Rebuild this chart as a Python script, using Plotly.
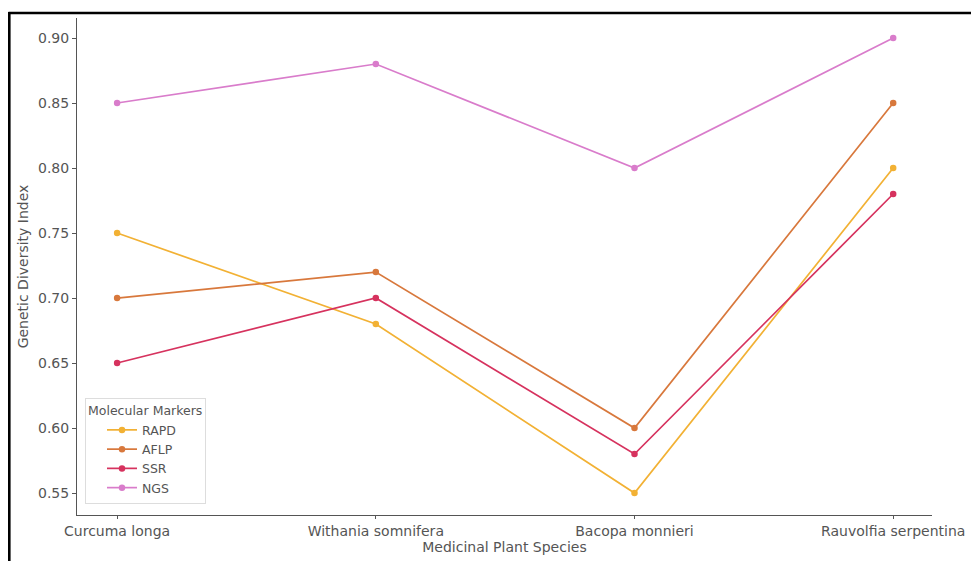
import plotly.graph_objects as go

species = ["Curcuma longa", "Withania somnifera", "Bacopa monnieri", "Rauvolfia serpentina"]
rapd = [0.75, 0.68, 0.55, 0.80]
aflp = [0.70, 0.72, 0.60, 0.85]
ssr = [0.65, 0.70, 0.58, 0.78]
ngs = [0.85, 0.88, 0.80, 0.90]
series_names = ["RAPD", "AFLP", "SSR", "NGS"]
colors = ["#f2b134", "#d8783c", "#d6325e", "#d97ccb"]
yticks = [0.55, 0.60, 0.65, 0.70, 0.75, 0.80, 0.85, 0.90]

fig = go.Figure()
for name, vals, c in zip(series_names, [rapd, aflp, ssr, ngs], colors):
    fig.add_trace(go.Scatter(
        x=list(range(len(species))), y=vals, name=name, mode="lines+markers",
        line=dict(color=c, width=1.7), marker=dict(color=c, size=6.5),
    ))

# page offset (browser body margin)
OFF = 8
W, H = 979, 561
# plot area in screen coordinates
SX0, SX1, SY0, SY1 = 77, 932, 18, 515
L = SX0 - OFF
T = SY0 - OFF
R = W - (SX1 - OFF)
B = H - (SY1 - OFF)
pw, ph = W - L - R, H - T - B
def px(x):
    return (x - OFF - L) / pw
def py(y):
    return (H - B - (y - OFF)) / ph

fig.update_layout(
    width=W, height=H,
    margin=dict(l=L, r=R, t=T, b=B, pad=0, autoexpand=False),
    paper_bgcolor="white", plot_bgcolor="white",
    font=dict(family="DejaVu Sans", color="#555555", size=14),
    showlegend=True,
    legend=dict(
        title=dict(text="Molecular Markers", font=dict(size=12.5, color="#555555")),
        x=px(85), y=py(398), xanchor="left", yanchor="top",
        bordercolor="#dddddd", borderwidth=1, bgcolor="rgba(255,255,255,0.8)",
        font=dict(size=12.5, color="#555555"), tracegroupgap=0, indentation=16,
    ),
    xaxis=dict(
        tickmode="array", tickvals=list(range(len(species))), ticktext=species,
        range=[-0.155, 3.15], showgrid=False, zeroline=False,
        showline=True, linecolor="#555555", linewidth=1,
        ticks="outside", ticklen=3, tickcolor="#555555",
        title=dict(text="Medicinal Plant Species", font=dict(size=14), standoff=2),
        tickfont=dict(size=14),
    ),
    yaxis=dict(
        tickmode="array", tickvals=yticks, ticktext=[f"{v:.2f}" for v in yticks],
        range=[0.5331, 0.9154], showgrid=False, zeroline=False,
        showline=True, linecolor="#555555", linewidth=1,
        ticks="outside", ticklen=4, tickcolor="#555555",
        title=dict(text="Genetic Diversity Index", font=dict(size=14), standoff=6),
        tickfont=dict(size=14),
    ),
    shapes=[
        dict(type="line", xref="paper", yref="paper", x0=px(8.5), x1=px(1000), y0=py(13), y1=py(13),
             line=dict(color="black", width=2.5)),
        dict(type="line", xref="paper", yref="paper", x0=px(9.3), x1=px(9.3), y0=py(12), y1=py(580),
             line=dict(color="black", width=2.6)),
    ],
)

fig.write_html("out.html")
